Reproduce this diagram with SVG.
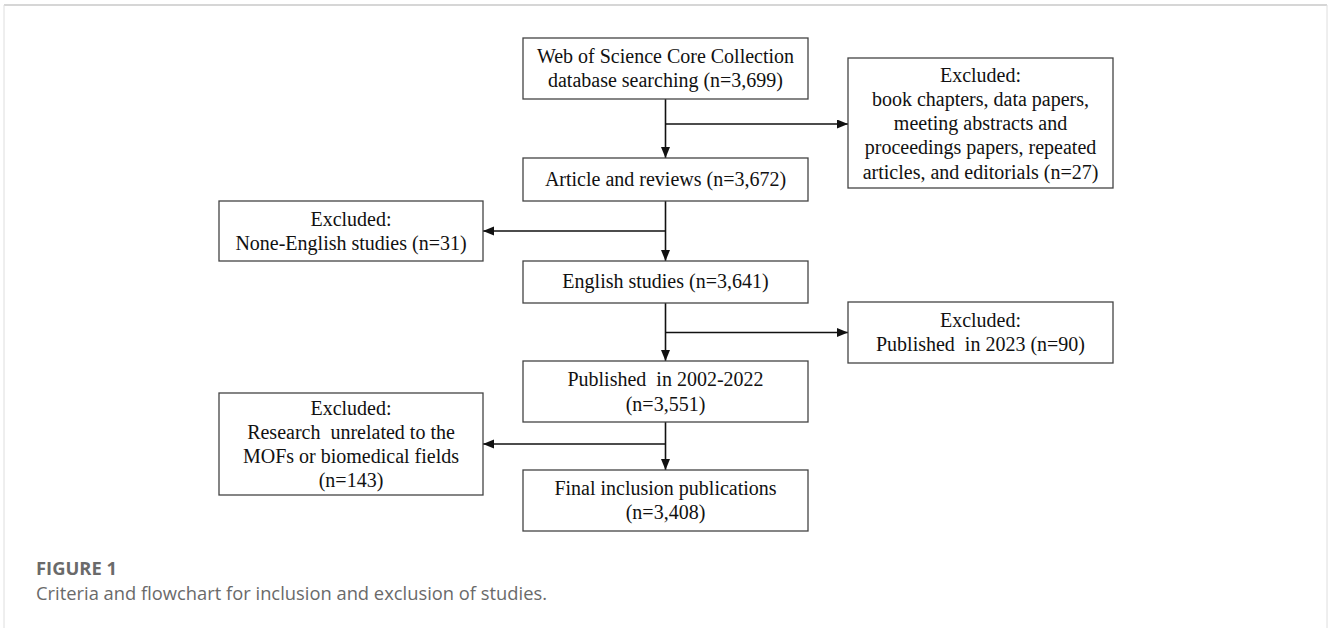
<svg xmlns="http://www.w3.org/2000/svg" width="1328" height="628" viewBox="0 0 1328 628">
<style>
.box{fill:#fff;stroke:#444;stroke-width:1.3}
.t{font-family:"Liberation Serif","Times New Roman",serif;font-size:20px;fill:#111;text-anchor:middle}
.ln{fill:none;stroke:#111;stroke-width:1.6}
.cap1{font-family:"Open Sans",sans-serif;font-size:18px;font-weight:bold;fill:#6a6a6a}
.cap2{font-family:"Open Sans",sans-serif;font-size:18px;fill:#6a6a6a}
</style>
<defs>
<marker id="ah" markerUnits="userSpaceOnUse" markerWidth="12" markerHeight="10" refX="11" refY="4.5" orient="auto">
<path d="M0,0 L11,4.5 L0,9 z" fill="#111"/>
</marker>
</defs>
<rect x="0" y="0" width="1328" height="628" fill="#fff"/>
<g id="frame">
<line x1="4" y1="5" x2="1327" y2="5" stroke="#d6d6d6" stroke-width="2"/>
<line x1="4" y1="5" x2="4" y2="628" stroke="#dedede" stroke-width="1"/>
<line x1="1327" y1="5" x2="1327" y2="628" stroke="#dedede" stroke-width="1"/>
</g>
<g id="connectors">
<line class="ln" x1="665.5" y1="99" x2="665.5" y2="158" marker-end="url(#ah)"/>
<line class="ln" x1="665.5" y1="124" x2="848" y2="124" marker-end="url(#ah)"/>
<line class="ln" x1="665.5" y1="201" x2="665.5" y2="261" marker-end="url(#ah)"/>
<line class="ln" x1="665.5" y1="231" x2="483" y2="231" marker-end="url(#ah)"/>
<line class="ln" x1="665.5" y1="303" x2="665.5" y2="361" marker-end="url(#ah)"/>
<line class="ln" x1="665.5" y1="332.5" x2="848" y2="332.5" marker-end="url(#ah)"/>
<line class="ln" x1="665.5" y1="422" x2="665.5" y2="470" marker-end="url(#ah)"/>
<line class="ln" x1="665.5" y1="444" x2="483" y2="444" marker-end="url(#ah)"/>
</g>
<g id="n1">
<rect class="box" x="523" y="38" width="285" height="61"/>
<text class="t" x="665.5" y="62.5">Web of Science Core Collection</text>
<text class="t" x="665.5" y="87">database searching (n=3,699)</text>
</g>
<g id="ex1">
<rect class="box" x="848" y="58" width="265" height="130"/>
<text class="t" x="980.5" y="81.5">Excluded:</text>
<text class="t" x="980.5" y="106">book chapters, data papers,</text>
<text class="t" x="980.5" y="130">meeting abstracts and</text>
<text class="t" x="980.5" y="154">proceedings papers, repeated</text>
<text class="t" x="980.5" y="178.5">articles, and editorials (n=27)</text>
</g>
<g id="n2">
<rect class="box" x="523" y="158" width="285" height="43"/>
<text class="t" x="665.5" y="185.5">Article and reviews (n=3,672)</text>
</g>
<g id="ex2">
<rect class="box" x="219" y="201" width="264" height="60"/>
<text class="t" x="351" y="225.5">Excluded:</text>
<text class="t" x="351" y="250">None-English studies (n=31)</text>
</g>
<g id="n3">
<rect class="box" x="523" y="261" width="285" height="42"/>
<text class="t" x="665.5" y="288">English studies (n=3,641)</text>
</g>
<g id="ex3">
<rect class="box" x="848" y="302" width="265" height="61"/>
<text class="t" x="980.5" y="326.5">Excluded:</text>
<text class="t" x="980.5" y="351" xml:space="preserve">Published  in 2023 (n=90)</text>
</g>
<g id="n4">
<rect class="box" x="523" y="361" width="285" height="61"/>
<text class="t" x="665.5" y="386" xml:space="preserve">Published  in 2002-2022</text>
<text class="t" x="665.5" y="410.5">(n=3,551)</text>
</g>
<g id="ex4">
<rect class="box" x="219" y="393" width="264" height="102"/>
<text class="t" x="351" y="415">Excluded:</text>
<text class="t" x="351" y="439" xml:space="preserve">Research  unrelated to the</text>
<text class="t" x="351" y="463">MOFs or biomedical fields</text>
<text class="t" x="351" y="487">(n=143)</text>
</g>
<g id="n5">
<rect class="box" x="523" y="470" width="285" height="61"/>
<text class="t" x="665.5" y="494.5">Final inclusion publications</text>
<text class="t" x="665.5" y="519">(n=3,408)</text>
</g>
<g id="caption">
<text class="cap1" x="36" y="575" textLength="81" lengthAdjust="spacingAndGlyphs">FIGURE 1</text>
<text class="cap2" x="36" y="600" textLength="511" lengthAdjust="spacingAndGlyphs">Criteria and flowchart for inclusion and exclusion of studies.</text>
</g>
</svg>
